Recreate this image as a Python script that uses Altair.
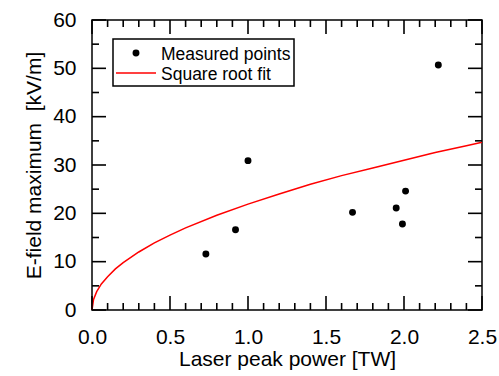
import altair as alt
import pandas as pd

# Measured points
power = [0.73, 0.92, 1.00, 1.67, 1.95, 1.99, 2.01, 2.22]
efield = [11.6, 16.6, 30.9, 20.2, 21.1, 17.8, 24.6, 50.7]

# Square root fit curve
fit_x = [0.0, 0.01, 0.03, 0.06, 0.1, 0.15, 0.2, 0.3, 0.4, 0.5, 0.6, 0.8, 1.0,
         1.2, 1.4, 1.6, 1.8, 2.0, 2.2, 2.4, 2.5]
fit_y = [0.0, 2.2, 3.8, 5.4, 6.9, 8.5, 9.8, 12.0, 13.9, 15.5, 17.0, 19.6, 21.9,
         24.0, 26.0, 27.8, 29.4, 31.0, 32.6, 34.0, 34.7]

series_names = ["Measured points", "Square root fit"]

x_major = [0.0, 0.5, 1.0, 1.5, 2.0, 2.5]
x_minor = [0.1, 0.2, 0.3, 0.4, 0.6, 0.7, 0.8, 0.9, 1.1, 1.2, 1.3, 1.4,
           1.6, 1.7, 1.8, 1.9, 2.1, 2.2, 2.3, 2.4]
y_major = [0, 10, 20, 30, 40, 50, 60]
y_minor = [5, 15, 25, 35, 45, 55]

W, H = 390, 290
FONT = "Liberation Sans"
MAJOR, MINOR = 14, 7

pts = pd.DataFrame({"x": power, "y": efield})
fit = pd.DataFrame({"x": fit_x, "y": fit_y})

xscale = alt.Scale(domain=[0, 2.5], nice=False, zero=False)
yscale = alt.Scale(domain=[0, 60], nice=False, zero=False)

x_axis = alt.Axis(
    values=x_major, format=".1f", grid=False, domain=False, ticks=False,
    labelFlush=False,
    labelFont=FONT, labelFontSize=21, labelColor="black", labelPadding=16,
    title="Laser peak power [TW]", titleFont=FONT, titleFontSize=21,
    titleFontWeight="normal", titleColor="black", titlePadding=1,
)
y_axis = alt.Axis(
    values=y_major, format="d", grid=False, domain=False, ticks=False,
    labelFlush=False,
    labelFont=FONT, labelFontSize=21, labelColor="black", labelPadding=16,
    title="E-field maximum \u00a0[kV/m]", titleFont=FONT, titleFontSize=21,
    titleFontWeight="normal", titleColor="black", titlePadding=8,
)

line = alt.Chart(fit).mark_line(color="red", strokeWidth=1.5).encode(
    x=alt.X("x:Q", scale=xscale, axis=x_axis),
    y=alt.Y("y:Q", scale=yscale, axis=y_axis),
)

points = alt.Chart(pts).mark_point(filled=True, color="black", size=48, opacity=1).encode(
    x=alt.X("x:Q", scale=xscale),
    y=alt.Y("y:Q", scale=yscale),
)


def xticks(vals, length, top):
    y0, y1 = (0, length) if top else (H, H - length)
    return alt.Chart(pd.DataFrame({"v": vals})).mark_rule(
        color="black", strokeWidth=1.6).encode(
        x=alt.X("v:Q", scale=xscale), y=alt.value(y0), y2=alt.value(y1))


def yticks(vals, length, right):
    x0, x1 = (W, W - length) if right else (0, length)
    return alt.Chart(pd.DataFrame({"v": vals})).mark_rule(
        color="black", strokeWidth=1.6).encode(
        y=alt.Y("v:Q", scale=yscale), x=alt.value(x0), x2=alt.value(x1))


ticks = [
    xticks(x_major, MAJOR, False), xticks(x_minor, MINOR, False),
    xticks(x_major, MAJOR, True), xticks(x_minor, MINOR, True),
    yticks(y_major, MAJOR, False), yticks(y_minor, MINOR, False),
    yticks(y_major, MAJOR, True), yticks(y_minor, MINOR, True),
]

# Legend (box, symbols and labels)
leg1 = pd.DataFrame({"label": [series_names[0]]})
leg2 = pd.DataFrame({"label": [series_names[1]]})

leg_box = alt.Chart(leg1).mark_rect(fill="white", stroke="black", strokeWidth=1.5).encode(
    x=alt.value(21), x2=alt.value(202), y=alt.value(19), y2=alt.value(66))
leg_dot = alt.Chart(leg1).mark_point(filled=True, color="black", size=48, opacity=1).encode(
    x=alt.value(44), y=alt.value(33))
leg_line = alt.Chart(leg2).mark_rule(color="red", strokeWidth=1.5).encode(
    x=alt.value(24), x2=alt.value(64), y=alt.value(53))
leg_t1 = alt.Chart(leg1).mark_text(align="left", baseline="alphabetic", font=FONT,
                                   fontSize=17.5, color="black").encode(
    x=alt.value(69), y=alt.value(39.5), text="label:N")
leg_t2 = alt.Chart(leg2).mark_text(align="left", baseline="alphabetic", font=FONT,
                                   fontSize=17.5, color="black").encode(
    x=alt.value(69), y=alt.value(59.5), text="label:N")

chart = alt.layer(line, points, *ticks, leg_box, leg_dot, leg_line, leg_t1, leg_t2).properties(
    width=W, height=H,
    autosize=alt.AutoSizeParams(type="none"),
    padding={"left": 92, "top": 20, "right": 17, "bottom": 66},
).configure_view(stroke="black", strokeWidth=1.5)

chart.save("out.html", embed_options={"renderer": "svg", "actions": False})
